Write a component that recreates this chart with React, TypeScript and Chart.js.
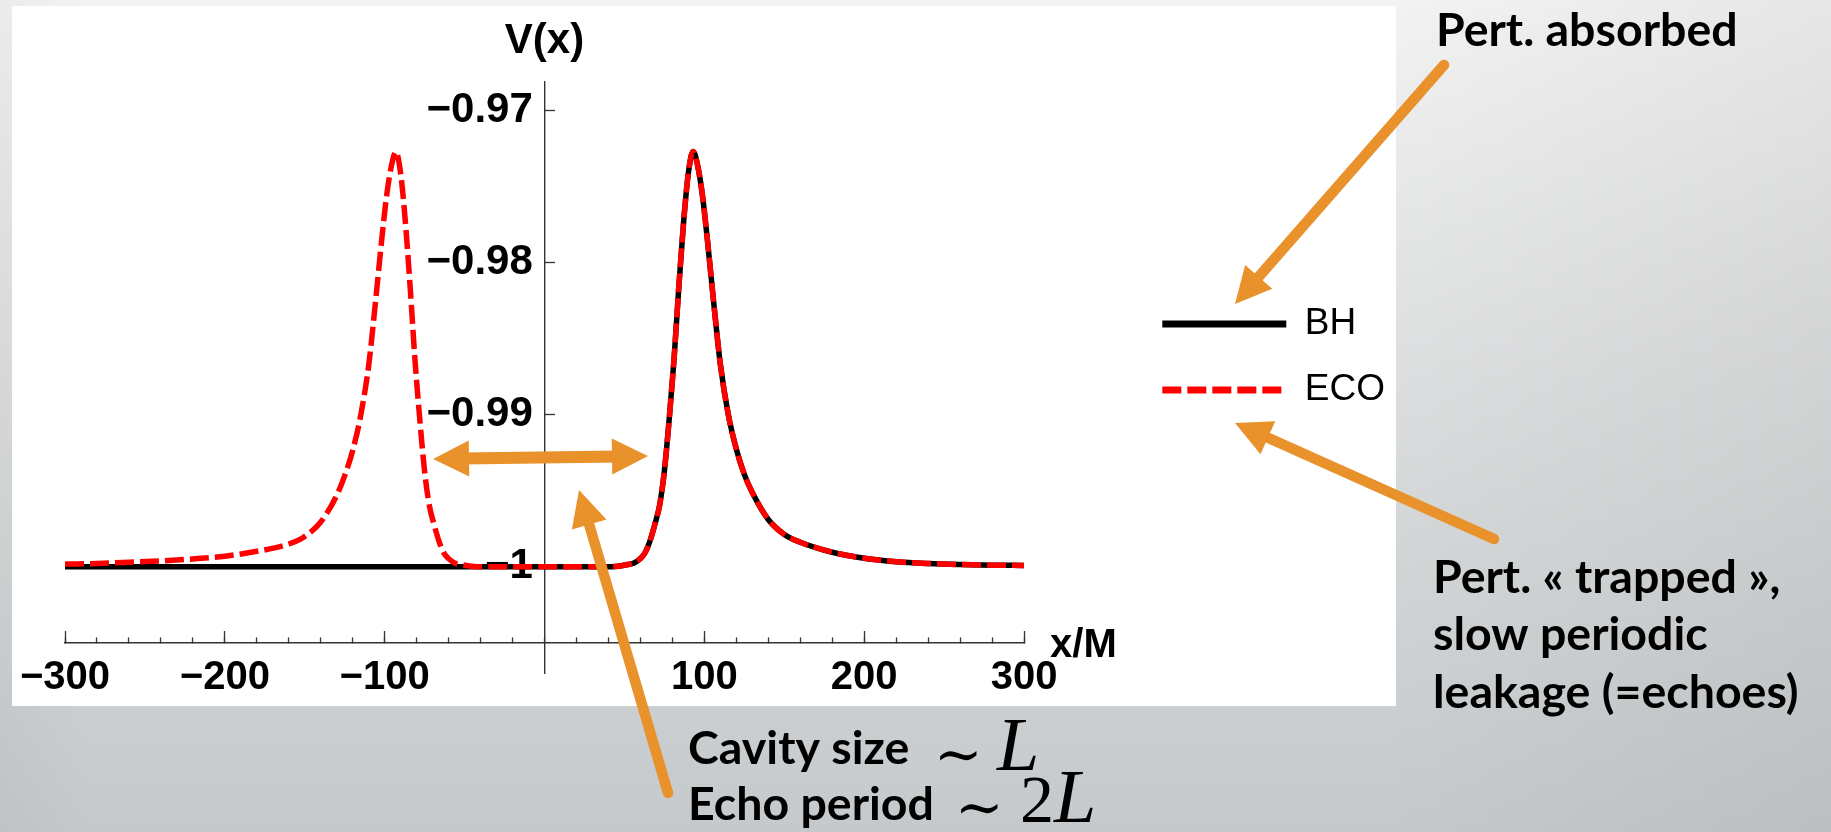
import React, { useEffect, useRef } from 'react';
import { Chart, registerables } from 'chart.js';

Chart.register(...registerables);

// ---------- data ----------
const xPositions = [
  -300, -280, -260, -240, -220, -200, -180, -160, -150, -140, -130, -125, -120, -115, -110,
  -106, -102, -99, -96, -93, -90, -87, -84, -81, -78, -75, -72, -69, -66, -63, -60, -56, -52,
  -48, -44, -40, -20, 0, 20, 40, 44, 48, 52, 56, 60, 63, 66, 69, 72, 75, 78, 81, 84, 87, 90,
  93, 96, 99, 102, 106, 110, 115, 120, 125, 130, 140, 150, 160, 180, 200, 220, 240, 260, 280, 300,
];

const bhValues = [
  -1, -1, -1, -1, -1, -1, -1, -1, -1, -1, -1, -1, -1, -1, -1,
  -1, -1, -1, -1, -1, -1, -1, -1, -1, -1, -1, -1, -1, -1, -1, -1, -1, -1,
  -1, -1, -1, -1, -1, -1, -1, -0.99998, -0.99993, -0.99985, -0.99975, -0.99945, -0.99906, -0.9983, -0.99722, -0.99596, -0.9937, -0.9903, -0.9864, -0.98165, -0.97736, -0.97411,
  -0.9727, -0.97372, -0.97574, -0.9786, -0.98278, -0.98668, -0.99, -0.99225, -0.99392, -0.99512, -0.99689, -0.99787, -0.99838, -0.99904, -0.99943, -0.99966, -0.99978, -0.99985, -0.99989, -0.99991,
];

const ecoValues = [
  -0.99982, -0.99978, -0.9997, -0.99961, -0.99948, -0.9993, -0.99898, -0.9985, -0.998, -0.99705, -0.9953, -0.994, -0.99235, -0.99005, -0.98675,
  -0.98285, -0.97865, -0.97578, -0.97375, -0.97272, -0.97415, -0.9774, -0.9817, -0.98645, -0.99035, -0.99375, -0.996, -0.99725, -0.99832, -0.99908, -0.99946, -0.99976, -0.99986,
  -0.99993, -0.99998, -1, -1, -1, -1, -1, -0.99998, -0.99993, -0.99985, -0.99975, -0.99945, -0.99906, -0.9983, -0.99722, -0.99596, -0.9937, -0.9903, -0.9864, -0.98165, -0.97736, -0.97411,
  -0.9727, -0.97372, -0.97574, -0.9786, -0.98278, -0.98668, -0.99, -0.99225, -0.99392, -0.99512, -0.99689, -0.99787, -0.99838, -0.99904, -0.99943, -0.99966, -0.99978, -0.99985, -0.99989, -0.99991,
];

const seriesNames = ['BH', 'ECO'];
const yTickValues = [-1, -0.99, -0.98, -0.97];
const xMajorTickValues = [-300, -200, -100, 100, 200, 300];

const X_MIN = -300;
const X_MAX = 300;
const Y_MIN = -1.00698;
const Y_MAX = -0.968126;
const X_AXIS_AT = -1.00501;

const AXIS_FONT = "'Liberation Sans', Arial, Helvetica, sans-serif";
const NOTE_FONT = "Lato, 'Open Sans', sans-serif";
const SERIF = "'Liberation Serif', 'Times New Roman', serif";
const ORANGE = '#E9912A';

const fmt = (v: number) => (v < 0 ? '\u2212' : '') + String(Math.abs(v));

function drawArrow(
  ctx: CanvasRenderingContext2D,
  x1: number, y1: number, x2: number, y2: number,
  both: boolean, w: number,
) {
  const headLen = 36;
  const headW = 36;
  const dx = x2 - x1;
  const dy = y2 - y1;
  const len = Math.hypot(dx, dy);
  const ux = dx / len;
  const uy = dy / len;
  const px = -uy;
  const py = ux;
  ctx.strokeStyle = ORANGE;
  ctx.fillStyle = ORANGE;
  ctx.lineWidth = w;
  ctx.setLineDash([]);
  ctx.lineCap = both ? 'butt' : 'round';
  const sx = both ? x1 + ux * headLen * 0.8 : x1;
  const sy = both ? y1 + uy * headLen * 0.8 : y1;
  ctx.beginPath();
  ctx.moveTo(sx, sy);
  ctx.lineTo(x2 - ux * headLen * 0.8, y2 - uy * headLen * 0.8);
  ctx.stroke();
  const head = (tx: number, ty: number, vx: number, vy: number) => {
    const bx = tx - vx * headLen;
    const by = ty - vy * headLen;
    ctx.beginPath();
    ctx.moveTo(tx, ty);
    ctx.lineTo(bx + px * headW / 2, by + py * headW / 2);
    ctx.lineTo(bx - px * headW / 2, by - py * headW / 2);
    ctx.closePath();
    ctx.fill();
  };
  head(x2, y2, ux, uy);
  if (both) head(x1, y1, -ux, -uy);
}

function drawCentered(ctx: CanvasRenderingContext2D, text: string, x: number, cy: number) {
  const m = ctx.measureText(text);
  const base = cy + (m.actualBoundingBoxAscent - m.actualBoundingBoxDescent) / 2;
  ctx.fillText(text, x, base);
}

const slidePlugin = {
  id: 'slide',
  beforeDraw(chart: any) {
    const { ctx, width, height } = chart;
    ctx.save();
    const g = ctx.createLinearGradient(0, 0, 0, height);
    g.addColorStop(0, '#f3f3f3');
    g.addColorStop(0.45, '#dcdedf');
    g.addColorStop(1, '#c5c9cb');
    ctx.fillStyle = g;
    ctx.fillRect(0, 0, width, height);
    const h = ctx.createLinearGradient(0, 0, width, 0);
    h.addColorStop(0, 'rgba(0,0,0,0.03)');
    h.addColorStop(0.05, 'rgba(0,0,0,0)');
    h.addColorStop(0.75, 'rgba(0,0,0,0)');
    h.addColorStop(1, 'rgba(0,0,0,0.05)');
    ctx.fillStyle = h;
    ctx.fillRect(0, 0, width, height);
    ctx.fillStyle = '#ffffff';
    ctx.fillRect(12, 6, 1384, 700);
    ctx.restore();
  },
  afterDraw(chart: any) {
    const { ctx } = chart;
    const xs = chart.scales.x;
    const ys = chart.scales.y;
    ctx.save();
    // axis names
    ctx.fillStyle = '#000';
    ctx.font = `bold 42px ${AXIS_FONT}`;
    ctx.textAlign = 'center';
    ctx.textBaseline = 'alphabetic';
    ctx.fillText('V(x)', xs.getPixelForValue(0), chart.chartArea.top - 29);
    ctx.font = `bold 40px ${AXIS_FONT}`;
    ctx.textAlign = 'left';
    ctx.fillText('x/M', xs.getPixelForValue(X_MAX) + 26, ys.getPixelForValue(X_AXIS_AT) + 14);

    // arrows
    drawArrow(ctx, 1444, 65, 1235, 304, false, 10.5);
    drawArrow(ctx, 1494, 539, 1235, 423, false, 10.5);
    drawArrow(ctx, 433, 459, 648, 456, true, 12);
    drawArrow(ctx, 668, 793, 579, 490, false, 10.5);

    // notes
    ctx.fillStyle = '#000';
    ctx.textAlign = 'left';
    ctx.textBaseline = 'alphabetic';
    ctx.font = `700 46.5px ${NOTE_FONT}`;
    ctx.fillText('Pert. absorbed', 1436, 46);
    ctx.fillText('Pert. \u00ab trapped \u00bb,', 1433, 593);
    ctx.fillText('slow periodic', 1433, 650);
    ctx.fillText('leakage (=echoes)', 1433, 708);
    ctx.fillText('Cavity size', 688, 764);
    ctx.fillText('Echo period', 688, 820);

    // math
    ctx.font = `58px 'DejaVu Serif', serif`;
    drawCentered(ctx, '\u223c', 934, 756);
    drawCentered(ctx, '\u223c', 955, 809);
    ctx.font = `italic 76px ${SERIF}`;
    ctx.fillText('L', 997, 770);
    ctx.font = `68px ${SERIF}`;
    ctx.fillText('2', 1020, 822);
    const w2 = ctx.measureText('2').width;
    ctx.font = `italic 76px ${SERIF}`;
    ctx.fillText('L', 1020 + w2, 822);
    ctx.restore();
  },
};

export default function App() {
  const canvasRef = useRef<HTMLCanvasElement | null>(null);

  useEffect(() => {
    const canvas = canvasRef.current;
    if (!canvas) return;
    const bhData = xPositions.map((x, i) => ({ x, y: bhValues[i] }));
    const ecoData = xPositions.map((x, i) => ({ x, y: ecoValues[i] }));

    const chart = new Chart(canvas, {
      type: 'line',
      data: {
        datasets: [
          {
            label: seriesNames[0],
            data: bhData,
            borderColor: '#000000',
            backgroundColor: '#000000',
            borderWidth: 5.5,
            pointRadius: 0,
            fill: false,
            order: 1,
            cubicInterpolationMode: 'monotone',
            xAxisID: 'x',
            yAxisID: 'y',
          },
          {
            label: seriesNames[1],
            data: ecoData,
            borderColor: '#ff0000',
            backgroundColor: '#ff0000',
            borderWidth: 5.5,
            borderDash: [19, 6],
            pointRadius: 0,
            fill: false,
            order: 0,
            cubicInterpolationMode: 'monotone',
            xAxisID: 'x',
            yAxisID: 'y',
          },
        ],
      },
      options: {
        responsive: false,
        animation: false,
        events: [],
        devicePixelRatio: 1,
        layout: { padding: { left: 65, top: 82, right: 436, bottom: 159 } },
        scales: {
          x: {
            type: 'linear',
            axis: 'x',
            min: X_MIN,
            max: X_MAX,
            position: { y: X_AXIS_AT },
            grid: { display: true, drawOnChartArea: false, drawTicks: true, tickLength: -6, tickColor: '#333', tickWidth: 1.3 },
            border: { display: true, color: '#333', width: 1.4 },
            ticks: { display: false, stepSize: 20, autoSkip: false, maxRotation: 0, minRotation: 0, padding: 0 },
          },
          xMajor: {
            type: 'linear',
            axis: 'x',
            min: X_MIN,
            max: X_MAX,
            position: { y: X_AXIS_AT },
            grid: { display: true, drawOnChartArea: false, drawTicks: true, tickLength: -12, tickColor: '#333', tickWidth: 1.3 },
            border: { display: false },
            afterBuildTicks: (s: any) => {
              s.ticks = xMajorTickValues.map((v) => ({ value: v }));
            },
            ticks: {
              display: true,
              autoSkip: false,
              maxRotation: 0,
              minRotation: 0,
              padding: 17,
              color: '#000',
              font: { family: AXIS_FONT, size: 40, weight: 'bold', lineHeight: 1.5 },
              callback: (v: any) => fmt(Number(v)),
            },
          },
          y: {
            type: 'linear',
            axis: 'y',
            min: Y_MIN,
            max: Y_MAX,
            position: { x: 0 },
            grid: { display: true, drawOnChartArea: false, drawTicks: true, tickLength: -11, tickColor: '#333', tickWidth: 1.3 },
            border: { display: true, color: '#333', width: 1.4 },
            afterBuildTicks: (s: any) => {
              s.ticks = yTickValues.map((v) => ({ value: v }));
            },
            ticks: {
              autoSkip: false,
              color: '#000',
              font: { family: AXIS_FONT, size: 42, weight: 'bold' },
              callback: (v: any) => fmt(Number(v)) + ' ',
            },
          },
          yspace: {
            type: 'linear',
            axis: 'y',
            position: 'right',
            display: true,
            grid: { display: false },
            border: { display: false },
            ticks: { display: false },
            afterFit: (s: any) => {
              s.width = 109.3;
            },
          },
        },
        plugins: {
          tooltip: { enabled: false },
          legend: {
            display: true,
            position: 'right',
            align: 'start',
            maxWidth: 600,
            title: { display: true, text: ' ', padding: { top: 0, bottom: 182.5 }, font: { size: 10 } },
            labels: {
              usePointStyle: true,
              pointStyle: 'line',
              pointStyleWidth: 124,
              padding: 29,
              color: '#000',
              font: { family: AXIS_FONT, size: 37 },
              sort: (a: any, b: any) => a.datasetIndex - b.datasetIndex,
              generateLabels: (c: any) =>
                Chart.defaults.plugins.legend.labels.generateLabels(c).map((l: any) => {
                  const ds = c.data.datasets[l.datasetIndex];
                  return {
                    ...l,
                    lineWidth: 7,
                    strokeStyle: ds.borderColor,
                    lineDash: ds.borderDash || [],
                    lineDashOffset: 0,
                    lineCap: 'butt',
                  };
                }),
            },
          },
        },
      } as any,
      plugins: [slidePlugin],
    });
    return () => chart.destroy();
  }, []);

  return (
    <div style={{ position: 'fixed', left: 0, top: 0, width: 1831, height: 832 }}>
      <canvas ref={canvasRef} width={1831} height={832} style={{ display: 'block', width: 1831, height: 832 }} />
    </div>
  );
}
